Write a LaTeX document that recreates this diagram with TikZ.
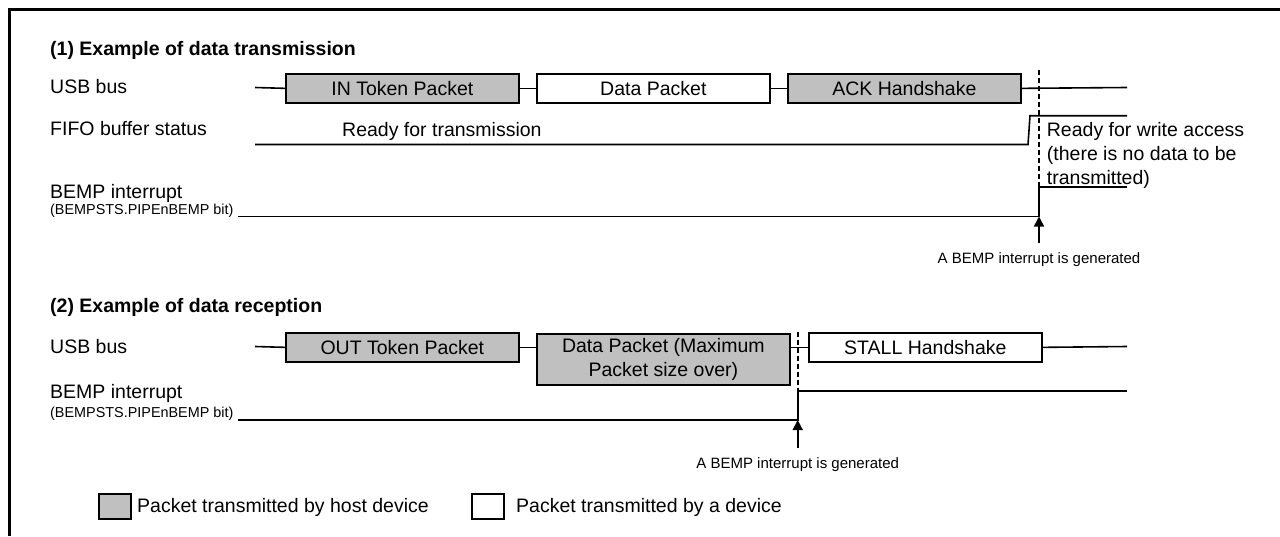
\documentclass[tikz,border=0pt]{standalone}
\usepackage{fontspec}
\setmainfont{Liberation Sans}
\usetikzlibrary{arrows.meta}
\definecolor{hostgray}{RGB}{192,192,192}
\begin{document}
\begin{tikzpicture}[x=1pt,y=-1pt,
  mainfont/.style={font=\fontsize{19.5}{23.6}\selectfont},
  pkt/.style={draw, line width=1.7pt, minimum height=29pt, inner sep=0pt, anchor=north west, mainfont, align=center},
  hostpkt/.style={pkt, fill=hostgray},
  devpkt/.style={pkt, fill=white},
  sig/.style={line width=1.6pt},
  lbl/.style={anchor=base west, inner sep=0pt, mainfont},
  ttl/.style={anchor=base west, inner sep=0pt, font=\fontsize{19.5}{23.6}\selectfont\bfseries},
  smalllbl/.style={anchor=base west, inner sep=0pt, font=\fontsize{14.4}{17}\selectfont},
  evtlbl/.style={anchor=base, inner sep=0pt, font=\fontsize{15}{18}\selectfont},
  evtline/.style={line width=2.2pt, dash pattern=on 5pt off 3pt},
  evtarrow/.style={-{Triangle[length=10pt,width=10pt]}, line width=1.6pt},
  legbox/.style={draw, line width=1.6pt, minimum width=32pt, minimum height=25pt, inner sep=0pt, anchor=north west}
]
\path[use as bounding box] (0,0) rectangle (1280,536);
% frame
\coordinate (frTR) at (1280,9);
\coordinate (frTL) at (9,9);
\coordinate (frBL) at (9,536);
\draw[line width=3pt] (frTR) -- (frTL) -- (frBL);

% ---------- (1) transmission ----------
\node[ttl] (title1) at (50,55) {(1) Example of data transmission};
\node[lbl] (usb1) at (50,93.3) {USB bus};
\node[lbl] (fifo) at (50,135) {FIFO buffer status};
\node[lbl] (bemp1) at (50,198) {BEMP interrupt};
\node[smalllbl] (bempbit1) at (50,214) {(BEMPSTS.PIPEnBEMP bit)};

\node[hostpkt, minimum width=233pt] (intok) at (285,73) {IN Token Packet};
\node[devpkt, minimum width=233pt] (data1) at (536,73) {Data Packet};
\node[hostpkt, minimum width=233pt] (ack) at (787,73) {ACK Handshake};
\coordinate (u1s) at (255,87.5);
\coordinate (u1e) at (1127,87.5);
\draw[sig] (u1s) -- (intok.west);
\draw[sig] (intok.east) -- (data1.west);
\draw[sig] (data1.east) -- (ack.west);
\draw[sig] (ack.east) -- (u1e);

% FIFO status
\coordinate (f0) at (255,144.5);
\coordinate (f1) at (1028,144.5);
\coordinate (f2) at (1030,115.7);
\coordinate (f3) at (1127,115.7);
\draw[sig] (f0) -- (f1) -- (f2) -- (f3);
\node[lbl] (rdytx) at (342,136.7) {Ready for transmission};
\node[anchor=north west, inner sep=0pt, mainfont, align=left] (rdywr) at (1046.7,122.5)
  {Ready for write access\\(there is no data to be\\transmitted)};

% event 1
\coordinate (ev1t) at (1039,70);
\coordinate (ev1b) at (1039,216.5);
\coordinate (b1s) at (238,216.5);
\coordinate (b1h) at (1039,187);
\coordinate (b1e) at (1127,187);
\draw[evtline] (ev1t) -- (ev1b);
\draw[sig] (b1s) -- (ev1b) -- (b1h) -- (b1e);
\coordinate (a1s) at (1039,243.3);
\draw[evtarrow] (a1s) -- (ev1b);
\node[evtlbl] (gen1) at (1039,263.3) {A BEMP interrupt is generated};

% ---------- (2) reception ----------
\node[ttl] (title2) at (50,312.7) {(2) Example of data reception};
\node[lbl] (usb2) at (50,353.3) {USB bus};
\node[lbl] (bemp2) at (50,398.3) {BEMP interrupt};
\node[smalllbl] (bempbit2) at (50,417) {(BEMPSTS.PIPEnBEMP bit)};

\node[hostpkt, minimum width=233pt] (outtok) at (285,332) {OUT Token Packet};
\node[hostpkt, minimum width=253pt, minimum height=51pt] (data2) at (536,333)
  {Data Packet (Maximum\\Packet size over)};
\node[devpkt, minimum width=233pt] (stall) at (808,332) {STALL Handshake};
\coordinate (u2s) at (255,346.5);
\coordinate (u2e) at (1127,346.5);
\draw[sig] (u2s) -- (outtok.west);
\draw[sig] (outtok.east) -- (outtok.east -| data2.west);
\draw[sig] (data2.east |- stall.west) -- (stall.west);
\draw[sig] (stall.east) -- (u2e);

% event 2
\coordinate (ev2t) at (797.7,331.7);
\coordinate (ev2b) at (797.7,420);
\coordinate (b2s) at (238,420);
\coordinate (b2h) at (797.7,390.7);
\coordinate (b2e) at (1127,390.7);
\draw[evtline] (ev2t) -- (ev2b);
\draw[sig] (b2s) -- (ev2b) -- (b2h) -- (b2e);
\coordinate (a2s) at (797.7,448.3);
\draw[evtarrow] (a2s) -- (ev2b);
\node[evtlbl] (gen2) at (797.7,468.3) {A BEMP interrupt is generated};

% ---------- legend ----------
\node[legbox, fill=hostgray] (leghost) at (98,493) {};
\node[lbl] (leghosttxt) at (137,512) {Packet transmitted by host device};
\node[legbox, fill=white] (legdev) at (471,493) {};
\node[lbl] (legdevtxt) at (516,512) {Packet transmitted by a device};
\end{tikzpicture}
\end{document}
